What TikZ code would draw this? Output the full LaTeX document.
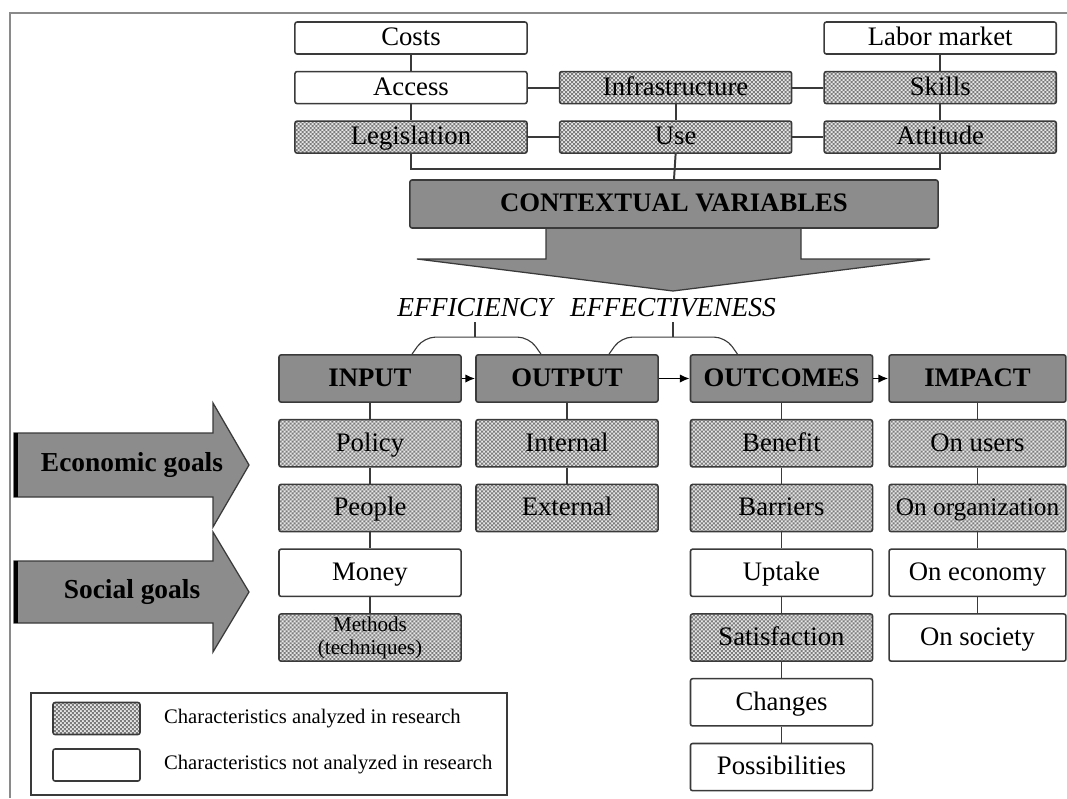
\documentclass[tikz,border=0pt]{standalone}
\usepackage{fontspec}
\setmainfont{Liberation Serif}
\usepackage{tikz}
\usetikzlibrary{positioning,arrows.meta,patterns}
\definecolor{HeadGray}{HTML}{8C8C8C}
\definecolor{Edge}{HTML}{3A3A3A}
\definecolor{Frame}{HTML}{8A8A8A}
\definecolor{Check}{HTML}{7C7C7C}
\definecolor{LCheck}{HTML}{E8E8E8}
\newcommand{\boxfont}{\fontsize{19}{21}\selectfont}
% small checks for the analysed boxes
\pgfdeclarepatternformonly{finecheck}{\pgfqpoint{-.1pt}{-.1pt}}{\pgfqpoint{2.94pt}{2.94pt}}{\pgfqpoint{2.84pt}{2.84pt}}{%
  \pgfpathrectangle{\pgfqpoint{0pt}{0pt}}{\pgfqpoint{1.42pt}{1.42pt}}%
  \pgfpathrectangle{\pgfqpoint{1.42pt}{1.42pt}}{\pgfqpoint{1.42pt}{1.42pt}}%
  \pgfusepath{fill}}

\begin{document}
\begin{tikzpicture}[x=0.025cm,y=-0.025cm,
    box/.style={draw=Edge,fill=white,line width=1.1pt,rounded corners=1.5pt,
                minimum height=1.18cm,minimum width=4.55cm,inner sep=1pt,
                text height=13pt,text depth=2pt,
                font=\boxfont,align=center},
    donebox/.style={box,preaction={fill=LCheck},pattern=finecheck,pattern color=Check},
    head/.style={box,fill=HeadGray,font=\boxfont\bfseries},
    topbox/.style={box,minimum width=5.8cm,minimum height=0.8cm},
    topdone/.style={donebox,minimum width=5.8cm,minimum height=0.8cm},
    narrow/.style={minimum width=4.42cm},
    link/.style={draw=Edge,line width=1.4pt},
    arr/.style={-{Latex[length=7pt,width=6pt]},line width=1.2pt,draw=black},
    brace/.style={draw=Edge,line width=0.8pt,rounded corners=8pt},
    goal/.style={fill=HeadGray,draw=Edge,line width=0.9pt},
    lbl/.style={font=\fontsize{19.5}{21}\selectfont\bfseries},
    itlbl/.style={font=\fontsize{19.5}{21}\selectfont\itshape},
    keytxt/.style={font=\fontsize{14.7}{16}\selectfont,inner sep=0pt,anchor=west}
  ]
  \useasboundingbox (0,0) rectangle (1067,798);
  \draw[Frame,line width=1.2pt] (1067,13) -- (10,13) -- (10,798);

  % context block
  \node[topbox] (cost) at (411,38) {Costs};
  \node[topbox, below=0.4cm of cost] (acc) {Access};
  \node[topdone, below=0.4cm of acc] (leg) {Legislation};
  \node[topdone, right=0.775cm of acc] (infra) {Infrastructure};
  \node[topdone, right=0.775cm of infra] (skill) {Skills};
  \node[topbox, above=0.4cm of skill] (labor) {Labor market};
  \node[topdone, right=0.775cm of leg] (use) {Use};
  \node[topdone, right=0.775cm of use] (att) {Attitude};
  \draw[link] (cost) -- (acc) (acc) -- (leg) (acc) -- (infra) (infra) -- (skill)
              (labor) -- (skill) (skill) -- (att) (infra) -- (use)
              (leg) -- (use) (use) -- (att);
  \draw[link] (leg.south) -- ++(0,15) -| (att.south);

  \filldraw[goal] (546,226) -- (546,259) -- (417,259) -- (673,291)
                  -- (930,259) -- (801,259) -- (801,226);
  \node[head, minimum width=13.2cm, minimum height=1.2cm] (ctx) at (674,204) {CONTEXTUAL VARIABLES};
  \draw[link] (use.south) -- (ctx.north);

  \node[itlbl] (effy) at (475,308) {EFFICIENCY};
  \node[itlbl] (effs) at (673,308) {EFFECTIVENESS};

  % chain
  \node[head] (inp) at (370,378.5) {INPUT};
  \node[head] (out) at (567,378.5) {OUTPUT};
  \node[head] (oc) at (781.5,378.5) {OUTCOMES};
  \node[head, narrow] (imp) at (977.5,378.5) {IMPACT};
  \draw[arr] (inp) -- (out);
  \draw[arr] (out) -- (oc);
  \draw[arr] (oc) -- (imp);

  \node[donebox, below=0.4cm of inp] (pol) {Policy};
  \node[donebox, below=0.4cm of pol] (peo) {People};
  \node[box, below=0.4cm of peo] (mon) {Money};
  \node[donebox, below=0.4cm of mon, text height={}, text depth={},
        font=\fontsize{15}{16.5}\selectfont] (meth) {Methods\\(techniques)};

  \node[donebox, below=0.4cm of out] (int) {Internal};
  \node[donebox, below=0.4cm of int] (ext) {External};

  \node[donebox, below=0.4cm of oc] (ben) {Benefit};
  \node[donebox, below=0.4cm of ben] (bar) {Barriers};
  \node[box, below=0.4cm of bar] (upt) {Uptake};
  \node[donebox, below=0.4cm of upt] (sat) {Satisfaction};
  \node[box, below=0.4cm of sat] (chg) {Changes};
  \node[box, below=0.4cm of chg] (pos) {Possibilities};

  \node[donebox, narrow, below=0.4cm of imp] (usr) {On users};
  \node[donebox, narrow, below=0.4cm of usr, font=\fontsize{18}{20}\selectfont] (org) {On organization};
  \node[box, narrow, below=0.4cm of org] (eco) {On economy};
  \node[box, narrow, below=0.4cm of eco] (soc) {On society};

  \draw[link] (inp) -- (pol) (pol) -- (peo) (peo) -- (mon) (mon) -- (meth);
  \draw[link] (out) -- (int) (int) -- (ext);
  \draw[link] (oc) -- (ben) (ben) -- (bar) (bar) -- (upt) (upt) -- (sat)
              (sat) -- (chg) (chg) -- (pos);
  \draw[link] (imp) -- (usr) (usr) -- (org) (org) -- (eco) (eco) -- (soc);

  % efficiency / effectiveness brackets
  \draw[brace] ([xshift=1.05cm]inp.north) -- ++(12,-17) coordinate (e1)
     -- ([xshift=-0.95cm,yshift=0.425cm]out.north) -- ([xshift=-0.65cm]out.north);
  \draw[brace] (effy.south) -- (effy.south |- e1);
  \draw[brace] ([xshift=1.05cm]out.north) -- ++(12,-17) coordinate (e2)
     -- ([xshift=-1.4cm,yshift=0.425cm]oc.north) -- ([xshift=-1.1cm]oc.north);
  \draw[brace] (effs.south) -- (effs.south |- e2);

  % goals
  \filldraw[goal] (14,433) -- (213,433) -- (213,403) -- (249,465) -- (213,527)
                  -- (213,497) -- (14,497) -- cycle;
  \draw[line width=2.2pt] (16,433) -- (16,497);
  \node[lbl] (econ) at (132,465) {Economic goals};
  \filldraw[goal] (14,561) -- (213,561) -- (213,532) -- (249,592) -- (213,652)
                  -- (213,623) -- (14,623) -- cycle;
  \draw[line width=2.2pt] (16,561) -- (16,623);
  \node[lbl] (socg) at (132,592) {Social goals};

  % key
  \node[draw=Edge, line width=0.9pt, minimum width=11.9cm, minimum height=2.55cm] (key) at (269,744) {};
  \node[donebox, minimum width=2.175cm, minimum height=0.8cm] (keyA) at (96.5,718.5) {};
  \node[box, minimum width=2.175cm, minimum height=0.8cm] (keyB) at (96.5,765) {};
  \node[keytxt, right=0.575cm of keyA] (txtA) {Characteristics analyzed in research};
  \node[keytxt, right=0.575cm of keyB] (txtB) {Characteristics not analyzed in research};
\end{tikzpicture}
\end{document}
